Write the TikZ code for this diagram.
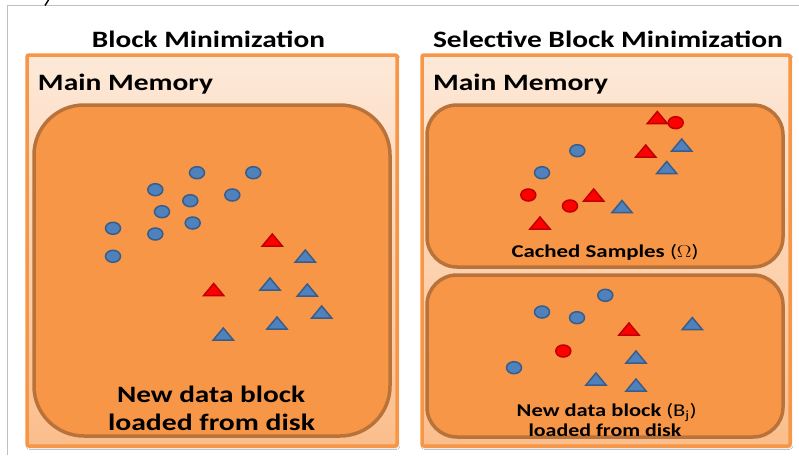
\documentclass[tikz,border=0pt]{standalone}
\usepackage{fontspec}
\setmainfont{Carlito}
\usepackage{graphicx}
\usetikzlibrary{shadows.blur}

\definecolor{peachtop}{HTML}{FDE9D9}
\definecolor{peachbot}{HTML}{FBBE8C}
\definecolor{boxorange}{HTML}{F79646}
\definecolor{blockfill}{HTML}{F79646}
\definecolor{blockline}{HTML}{B9733A}
\definecolor{bluefill}{HTML}{4F81BD}
\definecolor{blueline}{HTML}{385D8A}
\definecolor{redfill}{HTML}{FF0000}
\definecolor{redline}{HTML}{C00000}
\definecolor{framegray}{HTML}{C0C0C0}

% stretch a text to a given width, keeping its height
\newcommand\fitto[2]{\resizebox{#1}{\height}{#2}}

\tikzset{
  memory/.style={draw=boxorange, line width=3.5pt, rounded corners=2pt,
    top color=peachtop, bottom color=peachbot,
    blur shadow={shadow xshift=1pt, shadow yshift=-1.5pt,
      shadow blur steps=4, shadow opacity=30}},
  block/.style={draw=blockline, fill=blockfill, line width=3.5pt},
  bigtext/.style={inner sep=0pt, anchor=base,
    font=\fontsize{23.5}{26}\selectfont\bfseries},
  smalltext/.style={inner sep=0pt, anchor=base,
    font=\fontsize{18}{20}\selectfont\bfseries},
  marker/.style={line width=1.5pt},
  bdot/.pic={\draw[marker, fill=bluefill, draw=blueline] (0,0) ellipse [x radius=7.5, y radius=6];},
  rdot/.pic={\draw[marker, fill=redfill, draw=redline] (0,0) ellipse [x radius=7.5, y radius=6];},
  btri/.pic={\draw[marker, fill=bluefill, draw=blueline] (0,-6) -- (10,6) -- (-10,6) -- cycle;},
  rtri/.pic={\draw[marker, fill=redfill, draw=redline] (0,-6) -- (10,6) -- (-10,6) -- cycle;},
}

\begin{document}
\begin{tikzpicture}[x=1pt, y=-1pt]
\useasboundingbox[fill=white] (0,0) rectangle (799,455);

% page frame and a clipped glyph at the top edge
\draw[framegray, line width=1pt] (7,455) -- (7,5) -- (799,5);
\draw[black, line width=1.4pt] (45,5.5) -- (48.5,0);

% ---------- left: block minimization ----------
\node[bigtext] (titleA) at (208.5,47) {\fitto{233pt}{Block Minimization}};
\path[memory] (27,55) rectangle (397,446);
\node[bigtext] (memA) at (125.5,90) {\fitto{175pt}{Main Memory}};
\draw[block, rounded corners=50pt] (34,105) rectangle (390,436);

\foreach \p in {(197,172.7),(253.3,172.7),(155.3,189.7),(190.3,200.7),(232.3,195),
                (162,211.7),(192.7,223),(113,228.3),(155.3,234),(113,256.3)}
  \pic at \p {bdot};
\foreach \p in {(305.3,256),(270,284),(307.3,290),(321.7,312),(277,323),(223.3,334)}
  \pic at \p {btri};
\foreach \p in {(272.3,240),(213.7,289.5)}
  \pic at \p {rtri};

\node[bigtext] (newA1) at (211,402) {\fitto{188pt}{New data block}};
\node[bigtext] (newA2) at (211.5,430) {\fitto{207pt}{loaded from disk}};

% ---------- right: selective block minimization ----------
\node[bigtext] (titleB) at (608,47) {\fitto{350pt}{Selective Block Minimization}};
\path[memory] (422,55) rectangle (790,446);
\node[bigtext] (memB) at (520.5,90) {\fitto{175pt}{Main Memory}};

% cached samples
\draw[block, rounded corners=30pt] (427,105) rectangle (783,267);
\foreach \p in {(577.3,150.7),(542,172.7)}
  \pic at \p {bdot};
\foreach \p in {(675.7,122.7),(528.3,195),(570,206)}
  \pic at \p {rdot};
\foreach \p in {(681.7,145),(666.7,167.5),(622,206.5)}
  \pic at \p {btri};
\foreach \p in {(657.3,117.5),(645.7,151),(593.7,195),(540,223)}
  \pic at \p {rtri};
\node[smalltext] (cache) at (605,257.3) {\fitto{187pt}{Cached Samples {\normalfont($\Omega$)}}};

% new block
\draw[block, rounded corners=30pt] (427,275) rectangle (783,437);
\foreach \p in {(605.3,295.3),(542,312),(577,317.7),(514,367.7)}
  \pic at \p {bdot};
\pic at (563.3,351) {rdot};
\foreach \p in {(692.3,323.5),(636,357),(596,379),(636,385)}
  \pic at \p {btri};
\pic at (629,329) {rtri};
\node[smalltext] (newB1) at (606.7,416.7) {\fitto{180pt}{New data block {\normalfont(B\textsubscript{j})}}};
\node[smalltext] (newB2) at (605,436.7) {\fitto{153pt}{loaded from disk}};
\end{tikzpicture}
\end{document}
